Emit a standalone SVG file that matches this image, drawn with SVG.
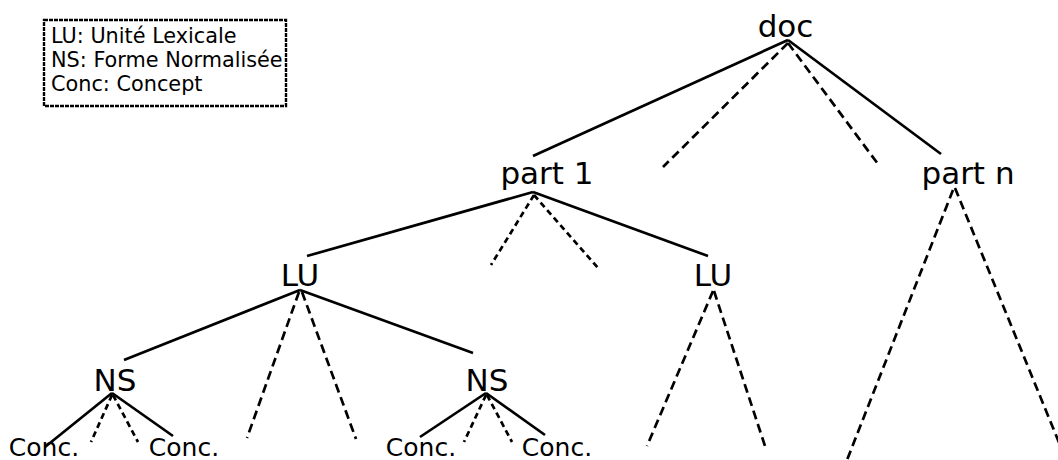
<svg xmlns="http://www.w3.org/2000/svg" width="1058" height="460" viewBox="0 0 1058 460">
  <style>
    .lbl { font-family: "DejaVu Sans", "Liberation Sans", sans-serif; fill: #000; text-anchor: middle; }
    .big { font-size: 31px; }
    .small { font-size: 25px; }
    .legend { font-family: "DejaVu Sans", "Liberation Sans", sans-serif; font-size: 20.8px; fill: #000; }
    .solid { stroke: #000; stroke-width: 2.7; fill: none; }
    .dash { stroke: #000; stroke-width: 2.7; fill: none; stroke-dasharray: 9 5; }
    .dash-s { stroke: #000; stroke-width: 2.7; fill: none; stroke-dasharray: 6 4; }
  </style>

  <!-- legend box -->
  <g id="legend">
    <rect x="44" y="20" width="242" height="86" fill="#fff" stroke="#000" stroke-width="2.4" stroke-dasharray="4 1"/>
    <text class="legend" x="51" y="43">LU: Unité Lexicale</text>
    <text class="legend" x="51" y="67">NS: Forme Normalisée</text>
    <text class="legend" x="51" y="91">Conc: Concept</text>
  </g>

  <!-- tree edges -->
  <g id="connectors">
    <!-- doc -->
    <line class="solid" x1="788" y1="40" x2="533" y2="156"/>
    <line class="dash" x1="788" y1="43" x2="663" y2="167"/>
    <line class="dash" x1="788" y1="43" x2="878" y2="164"/>
    <line class="solid" x1="788" y1="40" x2="941" y2="154"/>
    <!-- part 1 -->
    <line class="solid" x1="533" y1="192" x2="307" y2="256"/>
    <line class="dash-s" x1="534" y1="195" x2="491" y2="265"/>
    <line class="dash-s" x1="534" y1="195" x2="598" y2="268"/>
    <line class="solid" x1="533" y1="192" x2="708" y2="256"/>
    <!-- part n -->
    <line class="dash" x1="953" y1="190" x2="847" y2="460"/>
    <line class="dash" x1="955" y1="188" x2="1060" y2="445"/>
    <!-- LU (left) -->
    <line class="solid" x1="300" y1="290" x2="124" y2="360"/>
    <line class="dash" x1="299" y1="292" x2="247" y2="438"/>
    <line class="dash" x1="302" y1="292" x2="356" y2="439"/>
    <line class="solid" x1="300" y1="290" x2="473" y2="353"/>
    <!-- LU (right) -->
    <line class="dash" x1="713" y1="291" x2="647" y2="446"/>
    <line class="dash" x1="714" y1="291" x2="765" y2="446"/>
    <!-- NS (left) -->
    <line class="solid" x1="112" y1="393" x2="45" y2="447"/>
    <line class="dash-s" x1="112" y1="395" x2="91" y2="442"/>
    <line class="dash-s" x1="113" y1="395" x2="138" y2="442"/>
    <line class="solid" x1="112" y1="393" x2="173" y2="436"/>
    <!-- NS (right) -->
    <line class="solid" x1="486" y1="393" x2="420" y2="437"/>
    <line class="dash-s" x1="486" y1="395" x2="464" y2="442"/>
    <line class="dash-s" x1="487" y1="395" x2="512" y2="442"/>
    <line class="solid" x1="486" y1="393" x2="545" y2="435"/>
  </g>

  <!-- nodes -->
  <g id="node-doc"><text class="lbl big" x="785.5" y="37">doc</text></g>
  <g id="node-part1"><text class="lbl big" x="547" y="184">part 1</text></g>
  <g id="node-partn"><text class="lbl big" x="968" y="184">part n</text></g>
  <g id="node-lu1"><text class="lbl big" x="300" y="286">LU</text></g>
  <g id="node-lu2"><text class="lbl big" x="713" y="286">LU</text></g>
  <g id="node-ns1"><text class="lbl big" x="115" y="391">NS</text></g>
  <g id="node-ns2"><text class="lbl big" x="487" y="391">NS</text></g>
  <g id="node-conc1"><text class="lbl small" x="44" y="456">Conc.</text></g>
  <g id="node-conc2"><text class="lbl small" x="184" y="456">Conc.</text></g>
  <g id="node-conc3"><text class="lbl small" x="421" y="456">Conc.</text></g>
  <g id="node-conc4"><text class="lbl small" x="557" y="456">Conc.</text></g>
</svg>
